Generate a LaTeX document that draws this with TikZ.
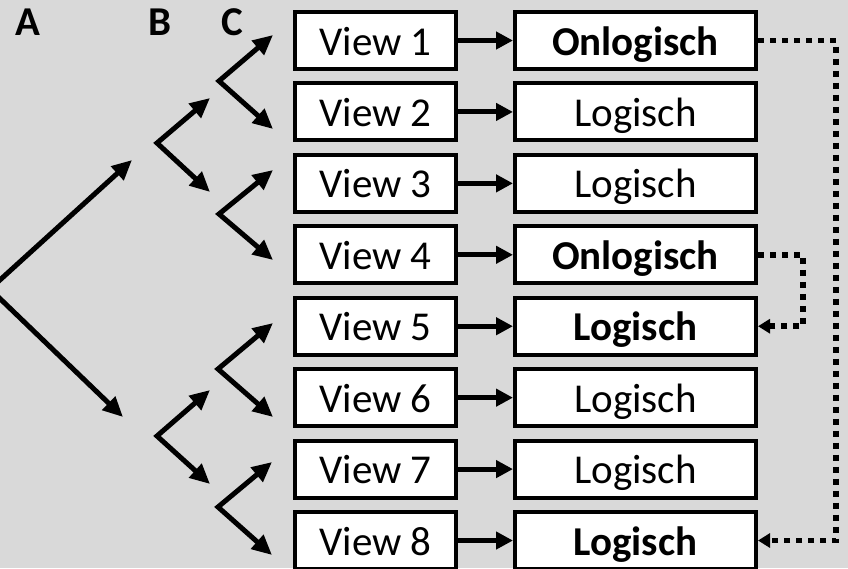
\documentclass[tikz,border=0pt]{standalone}
\usepackage{fontspec}
\setmainfont{Carlito}
\usetikzlibrary{arrows.meta}
\definecolor{bg}{HTML}{D9D9D9}
\begin{document}
\begin{tikzpicture}[x=1pt,y=-1pt,
  box/.style={draw=black, line width=4pt, fill=white, inner sep=0pt,
    minimum height=57pt, text height=30pt, text depth=1pt,
    font=\fontsize{41}{49}\selectfont},
  viewbox/.style={box, minimum width=161pt},
  logbox/.style={box, minimum width=241pt},
  treearrow/.style={line width=5pt, line join=miter,
    {Triangle[length=20pt,width=18pt]}-{Triangle[length=20pt,width=18pt]}},
  harrow/.style={line width=5pt, -{Triangle[length=17pt,width=17pt]}},
  dotarrow/.style={line width=5.5pt, dash pattern=on 6pt off 6pt,
    -{Triangle[length=12pt,width=14pt]}},
  letter/.style={font=\fontsize{41}{49}\selectfont\bfseries, anchor=base, inner sep=0pt}
]
\fill[bg] (0,0) rectangle (848,568);
\useasboundingbox (0,0) rectangle (848,568);

% column letters
\node[letter] (la) at (28,35) {A};
\node[letter] (lb) at (160,35) {B};
\node[letter] (lc) at (232,35) {C};

% boxes
\foreach \i/\t/\b in {1/Onlogisch/1,2/Logisch/0,3/Logisch/0,4/Onlogisch/1,5/Logisch/1,6/Logisch/0,7/Logisch/0,8/Logisch/1}{
  \pgfmathsetmacro{\yy}{40.5+71.43*(\i-1)}
  \node[viewbox] (v\i) at (375.5,\yy) {View \i};
  \ifnum\b=1
    \node[logbox,font=\fontsize{41}{49}\selectfont\bfseries] (l\i) at (635.5,\yy) {\t};
  \else
    \node[logbox] (l\i) at (635.5,\yy) {\t};
  \fi
  \draw[harrow] (v\i) -- (l\i);
}

% tree coordinates
\coordinate (av) at (-10,289);
\coordinate (au) at (132,160);
\coordinate (ad) at (123,417);
\coordinate (b1u) at (210,98);  \coordinate (b1v) at (157,143); \coordinate (b1d) at (210,192);
\coordinate (b2u) at (210,390); \coordinate (b2v) at (157,436); \coordinate (b2d) at (210,484);
\coordinate (c1u) at (273,35);  \coordinate (c1v) at (219,81);  \coordinate (c1d) at (273,129);
\coordinate (c2u) at (273,170); \coordinate (c2v) at (219,214); \coordinate (c2d) at (273,260);
\coordinate (c3u) at (273,323); \coordinate (c3v) at (218,369); \coordinate (c3d) at (273,417);
\coordinate (c4u) at (272,462); \coordinate (c4v) at (218,507); \coordinate (c4d) at (272,555);

\draw[treearrow] (au) -- (av) -- (ad);
\draw[treearrow] (b1u) -- (b1v) -- (b1d);
\draw[treearrow] (b2u) -- (b2v) -- (b2d);
\draw[treearrow] (c1u) -- (c1v) -- (c1d);
\draw[treearrow] (c2u) -- (c2v) -- (c2d);
\draw[treearrow] (c3u) -- (c3v) -- (c3d);
\draw[treearrow] (c4u) -- (c4v) -- (c4d);

% dotted connectors
\draw[dotarrow] (l1.east) -- ++(78,0) |- (l8.east);
\draw[dotarrow] (l4.east) -- ++(45,0) |- (l5.east);
\end{tikzpicture}
\end{document}
